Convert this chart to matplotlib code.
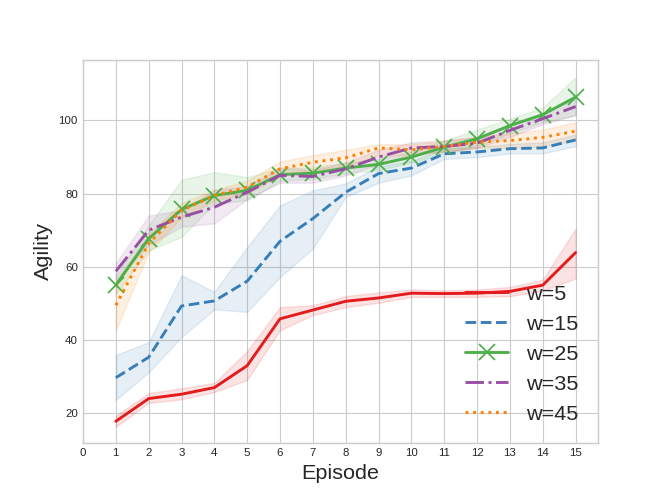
import numpy as np
import matplotlib
matplotlib.use("Agg")
import matplotlib.pyplot as plt

plt.style.use("seaborn-v0_8-whitegrid")

episodes = np.arange(1, 16)
labels = ["w=5", "w=15", "w=25", "w=35", "w=45"]

mean_w5 = [17.8, 24.0, 25.2, 27.0, 33.0, 45.8, 48.2, 50.6, 51.5, 52.8, 52.7, 52.8, 53.3, 55.0, 63.9]
low_w5 = [16.3, 22.8, 23.8, 25.8, 29.1, 42.7, 46.8, 49.0, 50.2, 51.8, 51.8, 51.8, 52.0, 53.5, 56.8]
high_w5 = [19.3, 25.5, 26.8, 28.3, 37.0, 49.0, 49.5, 52.0, 53.0, 53.8, 53.6, 53.8, 54.5, 56.5, 70.4]

mean_w15 = [29.7, 35.3, 49.3, 50.7, 56.1, 67.0, 73.2, 80.4, 85.5, 87.0, 90.9, 91.4, 92.3, 92.5, 94.7]
low_w15 = [23.6, 31.2, 40.8, 48.4, 47.7, 57.2, 65.0, 79.1, 83.0, 85.0, 89.5, 90.0, 91.0, 91.0, 93.0]
high_w15 = [35.9, 39.4, 57.7, 53.2, 65.4, 76.8, 80.9, 82.8, 87.5, 89.0, 92.3, 92.8, 93.6, 94.0, 96.2]

mean_w25 = [55.0, 67.7, 75.7, 79.5, 80.9, 85.2, 85.6, 87.0, 88.0, 90.0, 92.7, 95.0, 98.6, 101.6, 106.4]
low_w25 = [52.5, 64.5, 68.2, 77.3, 78.2, 83.5, 84.0, 85.5, 86.5, 88.5, 91.0, 93.0, 96.5, 99.5, 101.4]
high_w25 = [57.5, 71.3, 83.8, 85.9, 84.5, 87.0, 87.2, 88.5, 89.5, 91.5, 94.5, 97.5, 100.5, 103.5, 111.8]

mean_w35 = [58.8, 70.0, 73.6, 76.3, 80.4, 85.0, 84.7, 86.8, 90.0, 92.5, 92.9, 93.8, 97.3, 100.5, 103.8]
low_w35 = [56.5, 66.0, 71.0, 71.9, 78.5, 83.0, 83.0, 85.0, 88.0, 91.0, 91.5, 92.5, 95.5, 99.0, 101.5]
high_w35 = [61.0, 74.0, 75.5, 81.0, 82.0, 87.0, 86.5, 88.5, 92.0, 94.0, 94.5, 95.5, 99.0, 102.0, 106.0]

mean_w45 = [49.5, 66.4, 75.4, 79.5, 81.8, 86.8, 88.6, 89.8, 92.5, 92.0, 92.9, 94.1, 94.5, 95.4, 97.1]
low_w45 = [42.7, 64.0, 73.5, 78.0, 80.0, 85.0, 86.5, 87.5, 90.5, 90.5, 91.5, 92.5, 92.5, 93.0, 94.5]
high_w45 = [56.0, 69.0, 77.5, 81.0, 83.5, 88.8, 90.5, 92.0, 93.5, 93.5, 94.5, 95.5, 96.5, 97.5, 99.5]

means = [mean_w5, mean_w15, mean_w25, mean_w35, mean_w45]
lows = [low_w5, low_w15, low_w25, low_w35, low_w45]
highs = [high_w5, high_w15, high_w25, high_w35, high_w45]

colors = ["#e41a1c", "#377eb8", "#4daf4a", "#984ea3", "#ff7f00"]
styles = ["-", "--", "-", "-.", ":"]
markers = [None, None, "x", None, None]

fig, ax = plt.subplots(figsize=(6.4, 4.8), dpi=103.75)

for i in range(len(labels)):
    ax.plot(episodes, means[i], color=colors[i], linestyle=styles[i],
            marker=markers[i], markersize=11, markeredgewidth=1.2,
            linewidth=2, label=labels[i])
    ax.fill_between(episodes, lows[i], highs[i], color=colors[i], alpha=0.12, linewidth=1)

ax.set_xlim(0, 15.67)
ax.set_ylim(11.8, 116.6)
ax.set_xticks(range(0, 16))
ax.set_yticks([20, 40, 60, 80, 100])
ax.tick_params(axis="both", labelsize=8)
ax.set_xlabel("Episode", fontsize=15)
ax.set_ylabel("Agility", fontsize=15)
for sp in ax.spines.values():
    sp.set_visible(True)
    sp.set_color("#cccccc")

ax.legend(loc="lower right", fontsize=15, frameon=False)

plt.savefig("out.png", dpi=103.75)
plt.close()
